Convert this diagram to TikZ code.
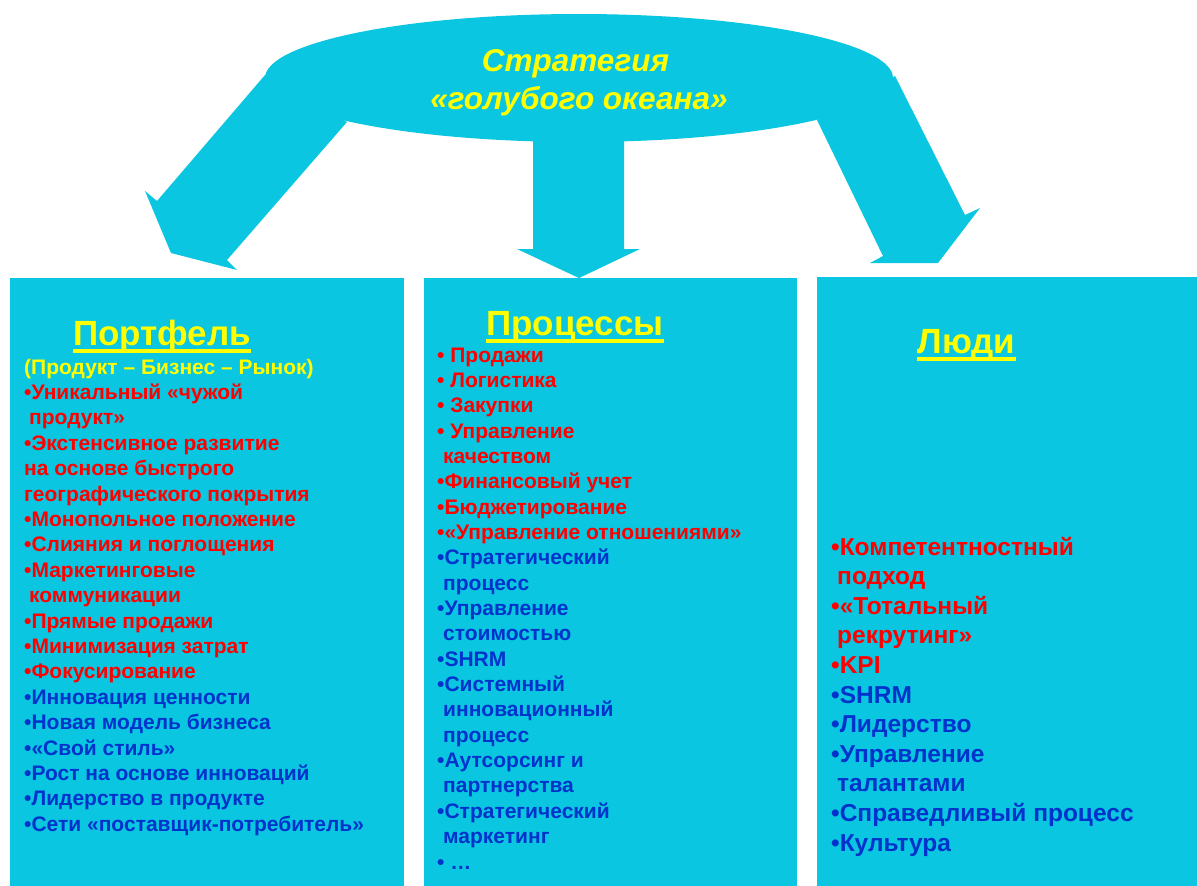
\documentclass[tikz,border=0pt]{standalone}
\usepackage{fontspec}
\setmainfont{Liberation Sans}
\usetikzlibrary{shapes.geometric}
\definecolor{ocean}{RGB}{10,198,224}
\definecolor{cyellow}{RGB}{255,255,0}
\definecolor{cred}{RGB}{255,0,0}
\definecolor{cblue}{RGB}{0,50,204}

\begin{document}
\begin{tikzpicture}[x=1pt, y=-1pt,
  panel/.style={fill=ocean, draw=none, anchor=north west, inner sep=0pt, outer sep=0pt},
  item/.style={anchor=base west, inner sep=0pt, font=\bfseries\fontsize{21}{24}\selectfont},
  bigitem/.style={item, font=\bfseries\fontsize{24.5}{29}\selectfont},
  heading/.style={anchor=base, inner sep=0pt, text=cyellow, font=\bfseries\fontsize{35}{40}\selectfont},
  bannertext/.style={anchor=base, inner sep=0pt, text=cyellow, font=\bfseries\itshape\fontsize{31.5}{36}\selectfont},
  headline/.style={cyellow, line width=3.5pt}
]
\useasboundingbox (0,0) rectangle (1197,886);

% banner: ellipse with three broad arrows
\node[ellipse, fill=ocean, inner sep=0pt, minimum width=628pt, minimum height=128pt] (banner) at (579,78) {};
\fill[ocean] (265,75) -- (157,201) -- (145,191) -- (171,253) -- (237,270)
  -- (227,260) -- (347,122) -- cycle;
\fill[ocean] (533,130) -- (533,249) -- (517,249) -- (579,278) -- (640,249)
  -- (624,249) -- (624,130) -- cycle;
\fill[ocean] (895,76) -- (965,215) -- (980,208) -- (938,263) -- (870,263)
  -- (883,256) -- (817,120) -- cycle;
\node[bannertext] (title1) at (575.5,71) {Стратегия};
\node[bannertext] (title2) at (579,109) {«голубого океана»};

% three panels
\node[panel, minimum width=394pt, minimum height=608pt] (portfolio) at (10,278) {};
\node[panel, minimum width=373pt, minimum height=608pt] (processes) at (424,278) {};
\node[panel, minimum width=380pt, minimum height=609pt] (people) at (817,277) {};

% headings
\node[heading] (hP) at (162,345) {Портфель};
\node[heading] (hQ) at (575,335) {Процессы};
\node[heading] (hL) at (966.5,353) {Люди};
\foreach \h in {hP,hQ,hL}
  \draw[headline] ([yshift=-6pt]\h.base west) -- ([yshift=-6pt]\h.base east);

% portfolio list
\foreach \c/\t [count=\i from 0] in {
  cyellow/{(Продукт – Бизнес – Рынок)},
  cred/{•Уникальный «чужой},
  cred/{\hspace*{5pt}продукт»},
  cred/{•Экстенсивное развитие},
  cred/{на основе быстрого},
  cred/{географического покрытия},
  cred/{•Монопольное положение},
  cred/{•Слияния и поглощения},
  cred/{•Маркетинговые},
  cred/{\hspace*{5pt}коммуникации},
  cred/{•Прямые продажи},
  cred/{•Минимизация затрат},
  cred/{•Фокусирование},
  cblue/{•Инновация ценности},
  cblue/{•Новая модель бизнеса},
  cblue/{•«Свой стиль»},
  cblue/{•Рост на основе инноваций},
  cblue/{•Лидерство в продукте},
  cblue/{•Сети «поставщик-потребитель»}}
  \node[item, text=\c] (pl\i) at (24,{374+\i*25.4}) {\t};

% processes list
\foreach \c/\t [count=\i from 0] in {
  cred/{• Продажи},
  cred/{• Логистика},
  cred/{• Закупки},
  cred/{• Управление},
  cred/{\hspace*{6pt}качеством},
  cred/{•Финансовый учет},
  cred/{•Бюджетирование},
  cred/{•«Управление отношениями»},
  cblue/{•Стратегический},
  cblue/{\hspace*{6pt}процесс},
  cblue/{•Управление},
  cblue/{\hspace*{6pt}стоимостью},
  cblue/{•SHRM},
  cblue/{•Системный},
  cblue/{\hspace*{6pt}инновационный},
  cblue/{\hspace*{6pt}процесс},
  cblue/{•Аутсорсинг и},
  cblue/{\hspace*{6pt}партнерства},
  cblue/{•Стратегический},
  cblue/{\hspace*{6pt}маркетинг},
  cblue/{• …}}
  \node[item, text=\c] (ql\i) at (437,{362+\i*25.35}) {\t};

% people list
\foreach \c/\t [count=\i from 0] in {
  cred/{•Компетентностный},
  cred/{\hspace*{6pt}подход},
  cred/{•«Тотальный},
  cred/{\hspace*{6pt}рекрутинг»},
  cred/{•KPI},
  cblue/{•SHRM},
  cblue/{•Лидерство},
  cblue/{•Управление},
  cblue/{\hspace*{6pt}талантами},
  cblue/{•Справедливый процесс},
  cblue/{•Культура}}
  \node[bigitem, text=\c] (ll\i) at (831,{555+\i*29.6}) {\t};
\end{tikzpicture}
\end{document}
